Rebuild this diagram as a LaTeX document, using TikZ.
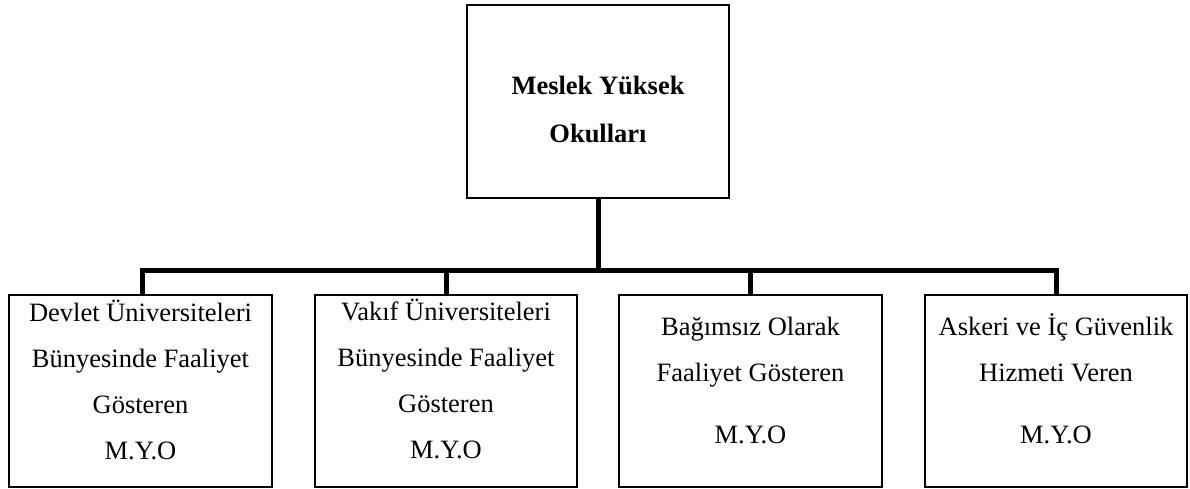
\documentclass[tikz,border=0pt]{standalone}
\usepackage{fontspec}
\setmainfont{Liberation Serif}
\begin{document}
\begin{tikzpicture}[x=1pt,y=-1pt,
  box/.style={draw=black,line width=1.5pt,rectangle,inner sep=0pt,
    minimum width=262pt,minimum height=192pt},
  label/.style={align=center,inner sep=0pt,anchor=base,
    font=\fontsize{26.5}{46}\selectfont},
  conn/.style={line width=5pt,line join=miter}]
\useasboundingbox (0,0) rectangle (1190,488);
% boxes
\node[box,minimum height=193pt] (top) at (598,101.5) {};
\node[box,minimum width=263pt] (b1) at (140.5,391) {};
\node[box] (b2) at (446,391) {};
\node[box,minimum width=263pt] (b3) at (750.5,391) {};
\node[box] (b4) at (1056,391) {};
% texts (anchored at the baseline of their last line)
\node[label,font=\fontsize{26.5}{48}\selectfont\bfseries] (ttop) at (598,142)
  {Meslek Yüksek\\Okulları};
\node[label] (t1) at (140.5,459)
  {Devlet Üniversiteleri\\Bünyesinde Faaliyet\\Gösteren\\M.Y.O};
\node[label] (t2) at (446,458)
  {Vakıf Üniversiteleri\\Bünyesinde Faaliyet\\Gösteren\\M.Y.O};
\node[label] (t3) at (750.5,443)
  {Bağımsız Olarak\\Faaliyet Gösteren\\[16pt]M.Y.O};
\node[label] (t4) at (1056,443)
  {Askeri ve İç Güvenlik\\Hizmeti Veren\\[16pt]M.Y.O};
% connectors
\coordinate (bus) at (598,270);
\draw[conn] (top.south) -- (top.south |- bus);
\draw[conn] ([xshift=1.5pt]b1.north) -- ([xshift=1.5pt]b1.north |- bus)
  -- (b4.north |- bus) -- (b4.north);
\draw[conn] (b2.north) -- (b2.north |- bus);
\draw[conn] (b3.north) -- (b3.north |- bus);
\end{tikzpicture}
\end{document}
